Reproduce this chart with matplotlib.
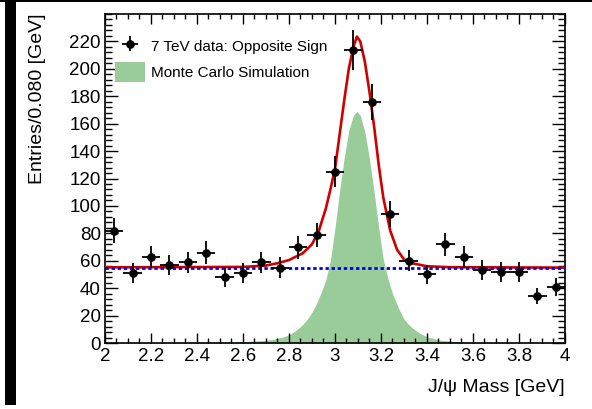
import numpy as np
import matplotlib
matplotlib.use("Agg")
import matplotlib.pyplot as plt
from matplotlib.patches import Rectangle, Patch
from matplotlib.ticker import MultipleLocator

plt.rcParams['font.family'] = ['Liberation Sans', 'DejaVu Sans']

# ---- data ----
bin_centers = [2.04, 2.12, 2.20, 2.28, 2.36, 2.44, 2.52, 2.60, 2.68, 2.76,
               2.84, 2.92, 3.00, 3.08, 3.16, 3.24, 3.32, 3.40, 3.48, 3.56,
               3.64, 3.72, 3.80, 3.88, 3.96]
counts = [82, 51, 63, 57, 59, 66, 48, 51, 59, 55,
          70, 79, 125, 214, 176, 94, 60, 50, 72, 63,
          53, 52, 52, 34, 41]
bin_half_width = 0.04

mc_x = [2.00, 2.40, 2.60, 2.66, 2.70, 2.74, 2.78, 2.80, 2.82, 2.84,
        2.86, 2.88, 2.90, 2.92, 2.94, 2.96, 2.98, 3.00, 3.02, 3.04,
        3.06, 3.08, 3.095, 3.11, 3.13, 3.15, 3.17, 3.19, 3.21, 3.23,
        3.25, 3.28, 3.30, 3.32, 3.34, 3.37, 3.40, 3.46, 3.55, 3.70, 4.00]
mc_y = [0.2, 0.5, 1.0, 1.5, 2.0, 3.0, 4.6, 6.0, 8.0, 10.5,
        13.5, 17.5, 22.5, 29, 37, 46, 60, 84, 111, 135,
        155, 166, 169, 166, 154, 134, 110, 84, 61, 47,
        36, 24, 17.5, 13.5, 10.5, 7.0, 4.5, 2.0, 0.8, 0.3, 0.0]

fit_x = [2.00, 2.60, 2.70, 2.75, 2.80, 2.86, 2.90, 2.93, 2.96, 2.98,
         3.00, 3.02, 3.04, 3.06, 3.08, 3.095, 3.11, 3.13, 3.15, 3.17,
         3.19, 3.21, 3.24, 3.27, 3.30, 3.34, 3.40, 3.50, 4.00]
fit_y = [55.2, 55.5, 56.5, 58.2, 60.5, 65.5, 72, 82, 98, 112,
         127, 152, 177, 200, 216, 223.5, 220, 205, 183, 158,
         130, 106, 82, 68, 61, 58, 56, 55.3, 55.0]

bkg_level = 55.0
x_range = [2.0, 4.0]

# ---- figure ----
fig = plt.figure(figsize=(5.92, 4.09), dpi=100)
ax = fig.add_axes([105/592, 1-343/409, (565-105)/592, (343-14)/409])

green = '#99cc99'
ax.fill_between(mc_x, 0, mc_y, color=green, lw=0, zorder=1)
ax.plot(fit_x, fit_y, color='#d00000', lw=1.9, zorder=3)
ax.plot(x_range, [bkg_level, bkg_level], color='#0000dd', lw=2.0,
        linestyle=(0, (1.2, 1.0)), zorder=4)

err = np.sqrt(np.array(counts, dtype=float))
eb = ax.errorbar(bin_centers, counts, xerr=bin_half_width, yerr=err,
                 fmt='o', color='black', ms=5.2, elinewidth=1.3,
                 capsize=0, zorder=5)

ax.set_xlim(2, 4)
ax.set_ylim(0, 240)
ax.xaxis.set_minor_locator(MultipleLocator(0.05))
ax.yaxis.set_minor_locator(MultipleLocator(4))
ax.set_xticks(np.arange(2.0, 4.01, 0.2))
ax.set_xticklabels(['2', '2.2', '2.4', '2.6', '2.8', '3', '3.2', '3.4', '3.6', '3.8', '4'])
ax.set_yticks(np.arange(0, 221, 20))

ax.tick_params(axis='both', which='both', direction='in', top=True, right=True,
               width=1.0, colors='black', labelsize=13.5)
ax.tick_params(axis='y', which='major', length=9.4, pad=3.0)
ax.tick_params(axis='y', which='minor', length=4.7)
ax.tick_params(axis='x', which='major', length=7.2, pad=3.5)
ax.tick_params(axis='x', which='minor', length=3.6)
for s in ax.spines.values():
    s.set_linewidth(1.2)

handles = [eb, Patch(facecolor=green, edgecolor='none')]
labels = ['7 TeV data: Opposite Sign', 'Monte Carlo Simulation']
ax.legend(handles, labels, loc='upper left', bbox_to_anchor=(-0.002, 0.965),
          frameon=False, fontsize=11, handlelength=2.0, handleheight=1.6,
          handletextpad=0.4, borderaxespad=0.3, labelspacing=0.42)

fig.text(38/592, 1-13/409, 'Entries/0.080 [GeV]', rotation=90,
         ha='center', va='top', fontsize=14)
fig.text(565/592, 1-379/409, 'J/\u03c8 Mass [GeV]', ha='right', va='top',
         fontsize=14)

# black frame pieces at figure edges
fig.patches.append(Rectangle((5/592, 4/409), 11/592, 405/409, transform=fig.transFigure,
                             facecolor='black', edgecolor='none'))
fig.patches.append(Rectangle((0, 1-2/409), 1, 2/409, transform=fig.transFigure,
                             facecolor='black', edgecolor='none'))

fig.savefig('out.png', dpi=100)
